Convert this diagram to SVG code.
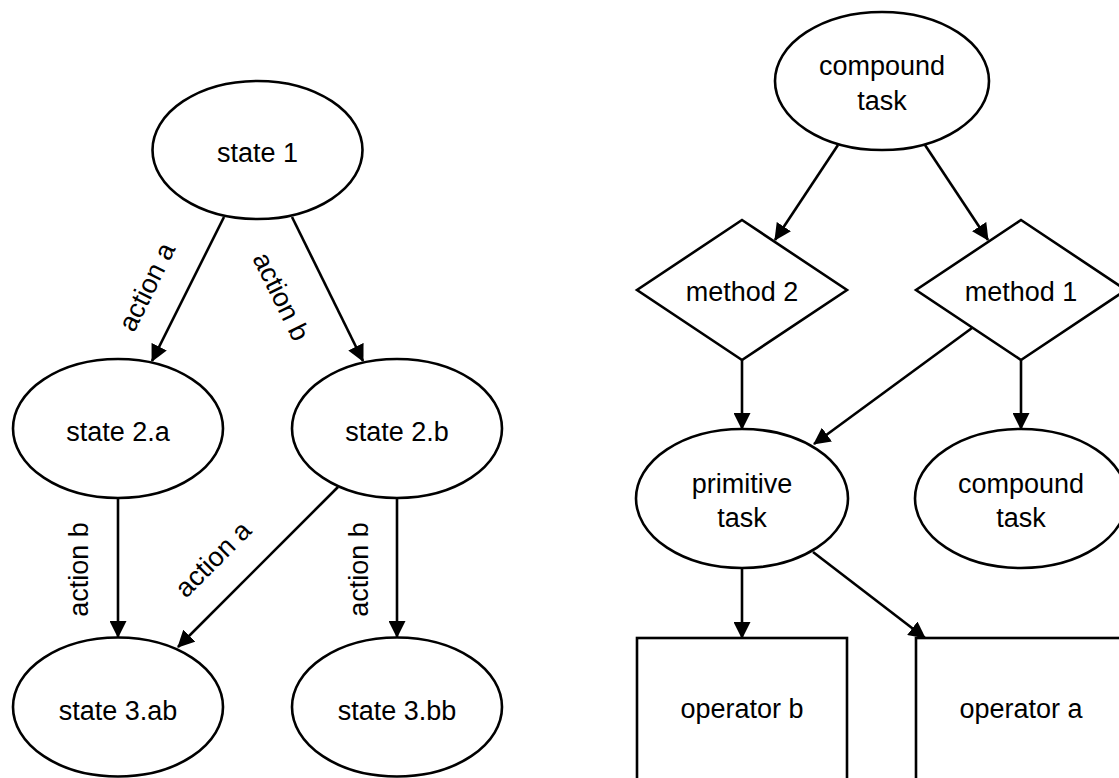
<svg xmlns="http://www.w3.org/2000/svg" width="1119" height="778" viewBox="0 0 1119 778">
  <style>
    .shape { fill: #ffffff; stroke: #000000; stroke-width: 2.6; }
    .edge { fill: none; stroke: #000000; stroke-width: 2.6; marker-end: url(#arrow); }
    text { font-family: "Liberation Sans", Arial, sans-serif; font-size: 27px; fill: #000000; text-anchor: middle; }
  </style>
  <defs>
    <marker id="arrow" markerUnits="userSpaceOnUse" markerWidth="17" markerHeight="17" viewBox="0 0 17 17" refX="16" refY="8.5" orient="auto">
      <path d="M0,0 L17,8.5 L0,17 Z" fill="#000000"/>
    </marker>
  </defs>
  <rect width="1119" height="778" fill="#ffffff"/>

  <!-- state-space tree -->
  <g id="connectors-states">
    <line class="edge" x1="224" y1="217" x2="152" y2="361"/>
    <line class="edge" x1="292" y1="217" x2="363" y2="361"/>
    <line class="edge" x1="118" y1="498" x2="118" y2="637"/>
    <line class="edge" x1="397" y1="498" x2="397" y2="637"/>
    <line class="edge" x1="338" y1="487" x2="178" y2="647"/>
    <text transform="translate(155,291) rotate(-63.6)">action a</text>
    <text transform="translate(273,300.5) rotate(63.6)">action b</text>
    <text transform="translate(88,569.5) rotate(-90)">action b</text>
    <text transform="translate(368,569.5) rotate(-90)">action b</text>
    <text transform="translate(219.5,565.5) rotate(-45)">action a</text>
  </g>

  <g id="state-1">
    <ellipse class="shape" cx="257.5" cy="150" rx="105" ry="69"/>
    <text x="257.5" y="162">state 1</text>
  </g>
  <g id="state-2a">
    <ellipse class="shape" cx="118" cy="428.5" rx="105" ry="69.5"/>
    <text x="118" y="441">state 2.a</text>
  </g>
  <g id="state-2b">
    <ellipse class="shape" cx="397" cy="428.5" rx="105" ry="69.5"/>
    <text x="397" y="441">state 2.b</text>
  </g>
  <g id="state-3ab">
    <ellipse class="shape" cx="118" cy="707" rx="105" ry="69.5"/>
    <text x="118" y="719.5">state 3.ab</text>
  </g>
  <g id="state-3bb">
    <ellipse class="shape" cx="397" cy="707" rx="105" ry="69.5"/>
    <text x="397" y="719.5">state 3.bb</text>
  </g>

  <!-- task decomposition -->
  <g id="connectors-tasks">
    <line class="edge" x1="838" y1="145" x2="775" y2="240"/>
    <line class="edge" x1="925" y1="145" x2="988" y2="240"/>
    <line class="edge" x1="742" y1="360" x2="742" y2="429"/>
    <line class="edge" x1="1021" y1="360" x2="1021" y2="429"/>
    <line class="edge" x1="972" y1="328" x2="814" y2="444"/>
    <line class="edge" x1="742" y1="568" x2="742" y2="638"/>
    <line class="edge" x1="813" y1="552" x2="925" y2="638"/>
  </g>

  <g id="compound-task-top">
    <ellipse class="shape" cx="882" cy="81" rx="107" ry="69"/>
    <text x="882" y="75">compound</text>
    <text x="882" y="109.5">task</text>
  </g>
  <g id="method-2">
    <polygon class="shape" points="742,220 847,290 742,360 637,290"/>
    <text x="742" y="300.5">method 2</text>
  </g>
  <g id="method-1">
    <polygon class="shape" points="1021,220 1126,290 1021,360 916,290"/>
    <text x="1021" y="300.5">method 1</text>
  </g>
  <g id="primitive-task">
    <ellipse class="shape" cx="742" cy="498.5" rx="106" ry="69.5"/>
    <text x="742" y="493">primitive</text>
    <text x="742" y="527">task</text>
  </g>
  <g id="compound-task-bottom">
    <ellipse class="shape" cx="1021" cy="498.5" rx="106" ry="69.5"/>
    <text x="1021" y="493">compound</text>
    <text x="1021" y="527">task</text>
  </g>
  <g id="operator-b">
    <rect class="shape" x="637" y="638" width="210" height="150"/>
    <text x="742" y="718">operator b</text>
  </g>
  <g id="operator-a">
    <rect class="shape" x="916" y="638" width="210" height="150"/>
    <text x="1021" y="718">operator a</text>
  </g>
</svg>
